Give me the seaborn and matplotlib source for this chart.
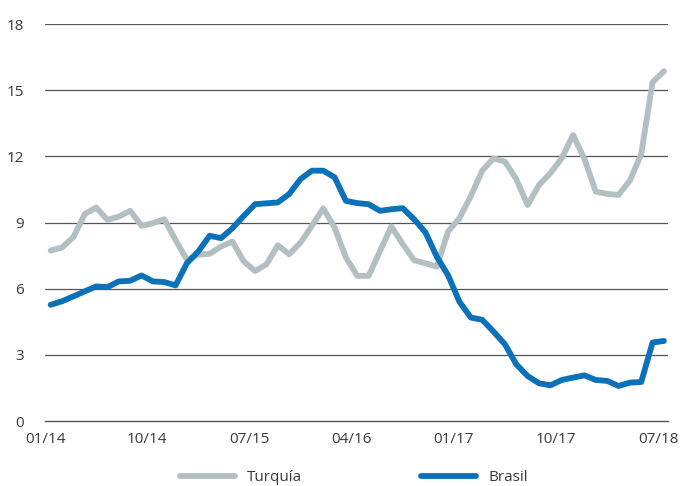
import numpy as np
import pandas as pd
import matplotlib
matplotlib.use('Agg')
import matplotlib.pyplot as plt
import seaborn as sns

# monthly series, 01/14 .. 07/18
turquia = [7.73, 7.87, 8.34, 9.38, 9.68, 9.12, 9.27, 9.53, 8.85, 8.97,
           9.15, 8.2, 7.31, 7.54, 7.58, 7.91, 8.14, 7.24, 6.8, 7.1,
           7.97, 7.56, 8.09, 8.85, 9.64, 8.77, 7.41, 6.58, 6.58, 7.71,
           8.82, 8.02, 7.29, 7.15, 7.0, 8.6, 9.2, 10.2, 11.35, 11.91,
           11.76, 10.97, 9.79, 10.7, 11.24, 11.91, 12.97, 11.88, 10.4, 10.3,
           10.25, 10.9, 12.1, 15.36, 15.86]
brasil = [5.27, 5.43, 5.65, 5.88, 6.1, 6.07, 6.33, 6.36, 6.6, 6.33,
          6.3, 6.15, 7.16, 7.69, 8.4, 8.29, 8.74, 9.3, 9.83, 9.87,
          9.91, 10.29, 10.97, 11.35, 11.35, 11.05, 9.98, 9.88, 9.83, 9.53,
          9.6, 9.65, 9.15, 8.55, 7.45, 6.6, 5.4, 4.69, 4.59, 4.05,
          3.48, 2.57, 2.04, 1.71, 1.62, 1.86, 1.97, 2.07, 1.86, 1.82,
          1.59, 1.74, 1.77, 3.56, 3.63]
tick_labels = ['01/14', '10/14', '07/15', '04/16', '01/17', '10/17', '07/18']
y_ticks = [0, 3, 6, 9, 12, 15, 18]

months = np.arange(len(turquia)) + 0.5  # mid-month

df = pd.DataFrame({
    'mes': np.concatenate([months, months]),
    'valor': turquia + brasil,
    'serie': ['Turquía'] * len(turquia) + ['Brasil'] * len(brasil),
})

sns.set_style('white')
plt.rcParams['font.family'] = ['Open Sans', 'DejaVu Sans']

colors = {'Turquía': '#b3c0c2', 'Brasil': '#0b72b9'}
text_color = '#3a3a3a'
grid_color = '#555555'

fig = plt.figure(figsize=(6.83, 4.86), dpi=100)
ax = fig.add_axes([0.0659, 0.1337, 0.912, 0.8169])

for s in ['Turquía', 'Brasil']:
    sns.lineplot(data=df[df['serie'] == s], x='mes', y='valor', ax=ax,
                 color=colors[s], linewidth=4.2, label=s, legend=False,
                 solid_capstyle='round', solid_joinstyle='round')

ax.set_xlim(0, 54.85)
ax.set_ylim(0, 18)
ax.set_yticks(y_ticks)
ax.set_xticks(np.arange(0, 55, 9))
ax.set_xticklabels(tick_labels)
ax.set_xlabel('')
ax.set_ylabel('')

for y in y_ticks[1:]:
    ax.axhline(y, color=grid_color, linewidth=0.9, zorder=0)

for side in ['top', 'right', 'left']:
    ax.spines[side].set_visible(False)
ax.spines['bottom'].set_color(grid_color)
ax.spines['bottom'].set_linewidth(1.0)

ax.tick_params(axis='x', direction='out', length=4, width=0.9, color=grid_color,
               pad=4, labelsize=11, labelcolor=text_color)
ax.tick_params(axis='y', length=0, pad=15, labelsize=11, labelcolor=text_color)

handles, labels = ax.get_legend_handles_labels()
leg = fig.legend(handles, labels, loc='center', bbox_to_anchor=(0.518, 0.017),
                 ncol=2, frameon=False, fontsize=11, handlelength=3.6,
                 columnspacing=7.8, handletextpad=0.8, labelcolor=text_color)
for h in leg.get_lines():
    h.set_linewidth(4.2)

fig.savefig('out.png', dpi=100)
